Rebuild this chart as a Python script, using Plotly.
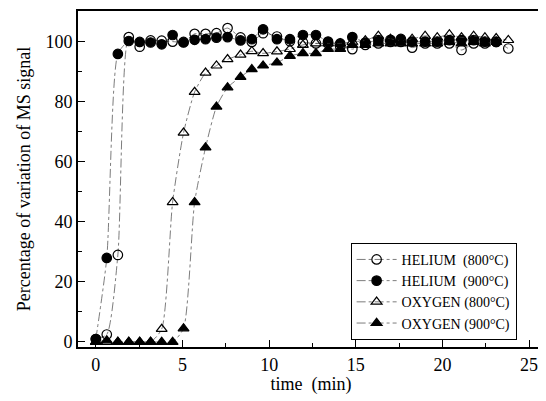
import plotly.graph_objects as go

time_min = [0, 0.63, 1.27, 1.9, 2.53, 3.16, 3.8, 4.43, 5.06, 5.7, 6.33, 6.96, 7.6, 8.35, 9.0,
            9.65, 10.45, 11.2, 11.95, 12.7, 13.4, 14.1, 14.8, 15.55, 16.3, 17.0, 17.6, 18.25,
            19.0, 19.7, 20.4, 21.1, 21.8, 22.45, 23.1, 23.8]

helium_800 = [1, 2.5, 29, 101.6, 98.4, 100.5, 100.4, 100.1, 100, 102.7, 102.7, 102.9, 104.6,
              101.5, 100, 102.9, 101.8, 100.2, 99.8, 99.5, 99.5, 98.5, 97.6, 99, 99.5, 100,
              100, 98.1, 99.5, 99.5, 99.5, 97.3, 99.5, 99.5, 100, 97.8]

helium_900 = [1, 28, 96, 100.3, 100, 99.8, 99.2, 102.3, 99.8, 100.7, 100.9, 101.4, 101.6,
              100.5, 100.9, 104.2, 100.9, 100.9, 102.3, 102.3, 100.1, 99.5, 101.6, 99.8, 100.6,
              100.7, 101, 100.1, 100.1, 100.1, 100.6, 100.6, 100.6, 100.1, 100]

oxygen_800 = [0, 0, 0, 0, 0, 0, 4.3, 46.6, 69.7, 83.3, 89.7, 92.1, 94.2, 95.7, 96.9, 96.2,
              96.8, 97.6, 99, 99.5, 99.5, 99.5, 100, 100.5, 102, 101, 100.5, 101, 102, 101.5,
              102.5, 101.5, 102, 101.5, 101.2, 100.6]

oxygen_900 = [0, 0.5, 0, 0, 0, 0, 0, 0, 4.5, 46.6, 64.8, 78.4, 84.8, 88.3, 90.9, 92.1, 93.1,
              95.3, 96.2, 96.2, 97.6, 97.6, 99, 99, 99.5, 99.5, 99.5, 99.5, 99.5, 99.5, 100,
              99.5, 100, 99.5, 100]

series = [
    ("HELIUM  (800°C)", helium_800, "circle-open"),
    ("HELIUM  (900°C)", helium_900, "circle"),
    ("OXYGEN (800°C)", oxygen_800, "triangle-up-open"),
    ("OXYGEN (900°C)", oxygen_900, "triangle-up"),
]

fig = go.Figure()
for name, vals, sym in series:
    fig.add_trace(go.Scatter(
        x=time_min[:len(vals)], y=vals, name=name, mode="lines+markers",
        line=dict(color="#444444", width=0.7, dash="dashdot", shape="spline", smoothing=0.6),
        marker=dict(symbol=sym, size=9.5, color="black",
                    line=dict(color="black", width=1.2)),
    ))

font_family = "Liberation Serif"
# page body has an 8px default margin, so the figure is sized/offset to compensate
fig.update_layout(
    width=538, height=393,
    margin=dict(l=70, r=0, t=3, b=54),
    paper_bgcolor="white", plot_bgcolor="white",
    font=dict(family=font_family, size=18, color="black"),
    showlegend=True,
    legend=dict(
        x=0.585, y=0.31, xanchor="left", yanchor="top",
        bgcolor="white", bordercolor="black", borderwidth=1,
        font=dict(family=font_family, size=14, color="black"),
        tracegroupgap=0, itemwidth=40,
    ),
)
fig.update_xaxes(
    range=[-1.03, 25.86], tickmode="linear", tick0=0, dtick=5,
    ticks="inside", ticklen=7, tickwidth=1.3, tickcolor="black",
    minor=dict(ticks="inside", ticklen=4, dtick=2.5, tickcolor="black", tickwidth=1.2),
    showline=True, linecolor="black", linewidth=1.8, mirror=True,
    showgrid=False, zeroline=False,
    title=dict(text="time  (min)", font=dict(family=font_family, size=18), standoff=4),
    tickfont=dict(family=font_family, size=18),
)
fig.update_yaxes(
    range=[-1.67, 110.3], tickmode="linear", tick0=0, dtick=20,
    ticks="inside", ticklen=7, tickwidth=1.3, tickcolor="black",
    minor=dict(ticks="inside", ticklen=4, dtick=10, tickcolor="black", tickwidth=1.2),
    showline=True, linecolor="black", linewidth=1.8, mirror=True,
    showgrid=False, zeroline=False,
    title=dict(text="Percentage of variation of MS signal",
               font=dict(family=font_family, size=18), standoff=10),
    tickfont=dict(family=font_family, size=18),
)

fig.write_html("out.html")
